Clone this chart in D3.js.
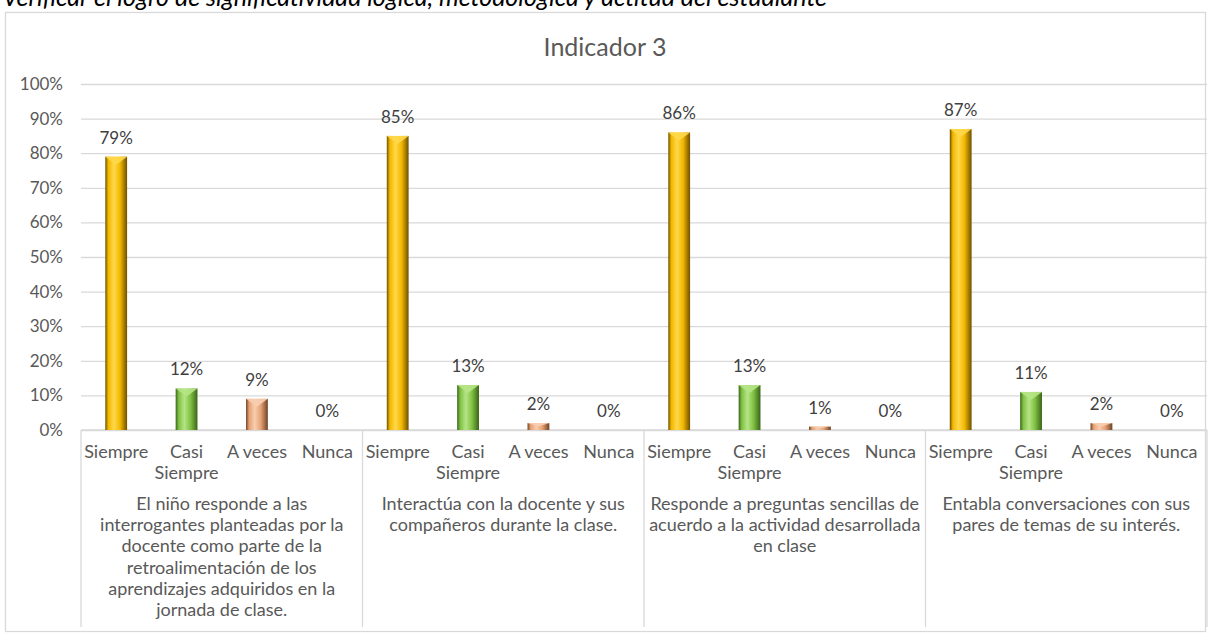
<!DOCTYPE html>
<html>
<head>
<meta charset="utf-8">
<script src="https://cdn.jsdelivr.net/npm/d3@7"></script>
<style>
  body { margin: 0; background: #fff; overflow: hidden; }
  svg { display: block; font-family: Lato, "Open Sans", sans-serif; }
</style>
</head>
<body>
<div id="chart"></div>
<script>
// data
const groups = ["g1", "g2", "g3", "g4"];
const groupLabels = [
  ["El niño responde a las", "interrogantes planteadas por la", "docente como parte de la", "retroalimentación de los", "aprendizajes adquiridos en la", "jornada de clase."],
  ["Interactúa con la docente y sus", "compañeros durante la clase."],
  ["Responde a preguntas sencillas de", "acuerdo a la actividad desarrollada", "en clase"],
  ["Entabla conversaciones con sus", "pares de temas de su interés."]
];
const answers = ["Siempre", "Casi Siempre", "A veces", "Nunca"];
const answerLines = [["Siempre"], ["Casi", "Siempre"], ["A veces"], ["Nunca"]];
const siempre     = [79, 85, 86, 87];
const casiSiempre = [12, 13, 13, 11];
const aVeces      = [9, 2, 1, 2];
const nunca       = [0, 0, 0, 0];
const yTicks = [0, 10, 20, 30, 40, 50, 60, 70, 80, 90, 100];

const W = 1219, H = 633;
var margin = {left: 81, right: 12, top: 84, bottom: 203};
var plotW = W - margin.left - margin.right,
    plotH = H - margin.top - margin.bottom;

var svg = d3.select("#chart").append("svg")
  .attr("width", W).attr("height", H);

// colours: [dark edge, mid, light]
var palette = [
  ["#6e5100", "#f2b800", "#ffd84a"],
  ["#3b6419", "#7fc143", "#b6e486"],
  ["#6e4326", "#e6a174", "#f8ceb0"],
  ["#7a7a7a", "#cccccc", "#eeeeee"]
];
var defs = svg.append("defs");
palette.forEach(function(c, i) {
  var g = defs.append("linearGradient").attr("id", "grad" + i)
    .attr("x1", "0%").attr("x2", "100%").attr("y1", "0%").attr("y2", "0%");
  g.append("stop").attr("offset", "0%").attr("stop-color", c[0]);
  g.append("stop").attr("offset", "14%").attr("stop-color", c[1]);
  g.append("stop").attr("offset", "40%").attr("stop-color", c[2]);
  g.append("stop").attr("offset", "68%").attr("stop-color", c[1]);
  g.append("stop").attr("offset", "100%").attr("stop-color", c[0]);
});

// caption above the chart, cut at the top edge like the source image
svg.append("text")
  .attr("x", 827).attr("y", 6)
  .attr("text-anchor", "end")
  .style("font-style", "italic")
  .style("font-size", "25px")
  .attr("fill", "#000")
  .text("Verificar el logro de significatividad lógica, metodológica y actitud del estudiante");

// chart frame
svg.append("rect")
  .attr("x", 5.5).attr("y", 12.5)
  .attr("width", 1200).attr("height", 619)
  .attr("fill", "#fff").attr("stroke", "#d9d9d9").attr("stroke-width", 1.3);

svg.append("text")
  .attr("x", 605).attr("y", 56)
  .attr("text-anchor", "middle")
  .style("font-size", "25px")
  .attr("fill", "#595959")
  .text("Indicador 3");

var g = svg.append("g")
  .attr("transform", "translate(" + margin.left + "," + margin.top + ")");

var y = d3.scaleLinear().domain([0, 100]).range([plotH, 0]);
var x0 = d3.scaleBand().domain(groups).range([0, plotW]);
var x1 = d3.scaleBand().domain(answers).range([0, x0.bandwidth()]).paddingInner(0.69).paddingOuter(0.345);

// gridlines + y labels
var yAxis = d3.axisLeft(y).tickValues(yTicks).tickSize(-plotW)
  .tickFormat(function(d) { return d + "%"; }).tickPadding(18);
g.append("g").attr("class", "yaxis").call(yAxis)
  .call(function(a) {
    a.select(".domain").remove();
    a.selectAll("line").attr("stroke", "#d9d9d9").attr("stroke-width", 1.3);
    a.selectAll("text").attr("fill", "#595959").style("font-size", "17px")
      .style("font-family", "Lato, sans-serif");
  });

// category box below the plot
g.append("line").attr("x1", 0).attr("x2", plotW).attr("y1", plotH).attr("y2", plotH)
  .attr("stroke", "#d9d9d9").attr("stroke-width", 1.3);
var seps = groups.map(function(d) { return x0(d); }).concat([plotW]);
g.selectAll(".sep").data(seps).enter().append("line")
  .attr("class", "sep")
  .attr("x1", function(d) { return d; }).attr("x2", function(d) { return d; })
  .attr("y1", plotH).attr("y2", H - margin.top - 6)
  .attr("stroke", "#d9d9d9").attr("stroke-width", 1.3);

var series = [siempre, casiSiempre, aVeces, nunca];
var rows = [];
groups.forEach(function(gr, gi) {
  answers.forEach(function(a, ai) {
    rows.push({group: gr, gi: gi, answer: a, ai: ai, value: series[ai][gi]});
  });
});

var bars = g.selectAll(".bar").data(rows).enter().append("g").attr("class", "bar")
  .attr("transform", function(d) { return "translate(" + (x0(d.group) + x1(d.answer)) + ",0)"; });

bars.filter(function(d) { return d.value > 0; }).append("rect")
  .attr("x", 0).attr("width", x1.bandwidth())
  .attr("y", function(d) { return y(d.value); })
  .attr("height", function(d) { return plotH - y(d.value); })
  .attr("fill", function(d) { return "url(#grad" + d.ai + ")"; });

// little bevel on top of each bar
bars.filter(function(d) { return d.value > 0; }).append("path")
  .attr("d", function(d) {
    var t = y(d.value), w = x1.bandwidth(), b = Math.min(8, (plotH - t) / 2);
    return "M0," + t + "L" + w + "," + t + "L" + (w / 2) + "," + (t + b) + "Z";
  })
  .attr("fill", function(d) { return palette[d.ai][2]; })
  .attr("opacity", 0.9);

// value labels
bars.append("text")
  .attr("x", x1.bandwidth() / 2)
  .attr("y", function(d) { return y(d.value) - 13; })
  .attr("text-anchor", "middle")
  .style("font-size", "17px")
  .attr("fill", "#404040")
  .text(function(d) { return d.value + "%"; });

// answer labels
bars.each(function(d) {
  var t = d3.select(this).append("text")
    .attr("text-anchor", "middle")
    .style("font-size", "18px")
    .attr("fill", "#595959");
  answerLines[d.ai].forEach(function(line, li) {
    t.append("tspan").attr("x", x1.bandwidth() / 2)
      .attr("y", plotH + 28 + li * 21).text(line);
  });
});

// group labels
groups.forEach(function(gr, gi) {
  var t = g.append("text")
    .attr("text-anchor", "middle")
    .style("font-size", "18px")
    .attr("fill", "#595959");
  groupLabels[gi].forEach(function(line, li) {
    t.append("tspan").attr("x", x0(gr) + x0.bandwidth() / 2)
      .attr("y", plotH + 80 + li * 21.2).text(line);
  });
});
</script>
</body>
</html>
